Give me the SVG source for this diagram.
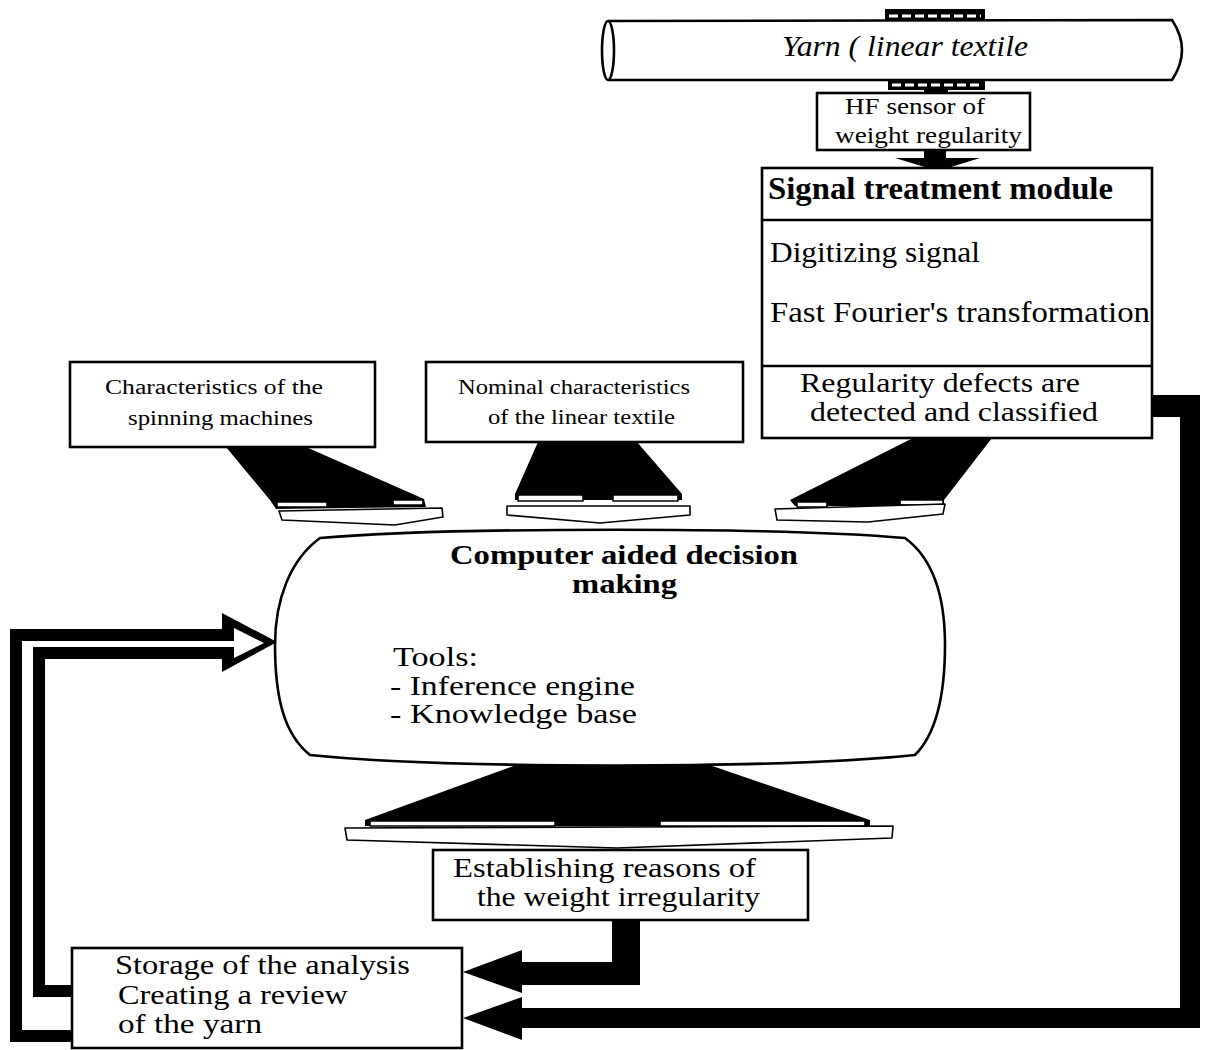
<svg xmlns="http://www.w3.org/2000/svg" width="1206" height="1050" viewBox="0 0 1206 1050">
<style>
.box{fill:#fff;stroke:#000;stroke-width:2.6}
.t{font-family:"Liberation Serif","Times New Roman",serif;fill:#000}
.s{font-size:27px}
.l{font-size:30px}
.sm{font-size:20px}
.b{font-weight:bold}
.blk{fill:#000;stroke:none}
.tray{fill:#fff;stroke:#000;stroke-width:1.6;stroke-linejoin:round}
.line{fill:none;stroke:#000}
.dash{stroke:#fff;stroke-width:3;stroke-dasharray:9,4}
</style>
<rect width="1206" height="1050" fill="#fff"/>

<g id="connectors">
  <!-- sensor bands / stem -->
  <rect x="885" y="9" width="100" height="13" class="blk"/>
  <line x1="889" y1="16" x2="981" y2="16" class="dash"/>
  <rect x="888" y="77" width="97" height="13" class="blk"/>
  <line x1="892" y1="85" x2="981" y2="85" class="dash"/>
  <rect x="924" y="89" width="24" height="6" class="blk"/>
  <!-- sensor to module arrow -->
  <rect x="924" y="150" width="22" height="9" class="blk"/>
  <polygon points="895,158 980,158 938,171" class="blk"/>

  <!-- left funnel -->
  <polygon points="226,447 306,447 424,499 426,507 276,509 270,500" class="blk"/>
  <rect x="277" y="502" width="50" height="5" class="tray"/>
  <rect x="393" y="500" width="30" height="5" class="tray"/>
  <polygon points="279,511 442,508 443,517 395,525 282,520" class="tray"/>

  <!-- middle funnel -->
  <polygon points="538,442 637,442 682,494 682,500 515,500 515,494" class="blk"/>
  <rect x="518" y="495" width="65" height="6" class="tray"/>
  <rect x="613" y="495" width="65" height="6" class="tray"/>
  <polygon points="507,506 690,506 690,515 600,523 507,515" class="tray"/>

  <!-- right funnel -->
  <polygon points="913,438 992,438 944,500 944,506 795,506 790,500" class="blk"/>
  <rect x="797" y="502" width="30" height="5" class="tray"/>
  <rect x="900" y="500" width="43" height="5" class="tray"/>
  <polygon points="775,509 945,504 943,514 868,522 777,520" class="tray"/>

  <!-- bottom funnel -->
  <polygon points="530,760 695,760 870,820 870,826 365,826 365,820" class="blk"/>
  <rect x="370" y="821" width="185" height="5" class="tray"/>
  <rect x="660" y="821" width="205" height="5" class="tray"/>
  <polygon points="345,828 893,826 892,838 617,848 347,840" class="tray"/>

  <!-- reasons to storage -->
  <polygon points="612,920 640,920 640,985 522,985 522,993 463,972 522,950 522,962 612,962" class="blk"/>

  <!-- regularity loop to storage -->
  <polygon points="1152,395 1200,395 1200,1028 522,1028 522,1040 463,1018 522,997 522,1008 1180,1008 1180,417 1152,417" class="blk"/>

  <!-- storage back to decision (hollow arrow) -->
  <polyline points="72,1036 16,1036 16,635 230,635" class="line" stroke-width="12"/>
  <polyline points="72,991 39,991 39,653 230,653" class="line" stroke-width="12"/>
  <polygon points="222,613 277,642 222,672" class="blk"/>
  <polygon points="221,641 234,641 234,628 264,643 234,658 234,647 221,647" fill="#fff"/>
</g>

<g id="pipe">
  <path d="M608,21 L1172,20 Q1192,50 1172,80 L608,80" class="box"/>
  <ellipse cx="608" cy="50.5" rx="6" ry="29.5" class="box"/>
  <text x="782" y="56" class="t" font-size="30" font-style="italic" textLength="246" lengthAdjust="spacingAndGlyphs">Yarn ( linear textile</text>
</g>

<g id="sensor">
  <rect x="817" y="93" width="213" height="57" class="box"/>
  <text x="845" y="114" class="t" font-size="23" textLength="140" lengthAdjust="spacingAndGlyphs">HF sensor of</text>
  <text x="835" y="143" class="t" font-size="23" textLength="187" lengthAdjust="spacingAndGlyphs">weight regularity</text>
</g>

<g id="signal-module">
  <rect x="762" y="168" width="390" height="270" class="box"/>
  <line x1="762" y1="220" x2="1152" y2="220" stroke="#000" stroke-width="2.6"/>
  <line x1="762" y1="366" x2="1152" y2="366" stroke="#000" stroke-width="2.6"/>
  <text x="768" y="199" class="t b" font-size="31" textLength="345" lengthAdjust="spacingAndGlyphs">Signal treatment module</text>
  <text x="770" y="262" class="t l" textLength="210" lengthAdjust="spacingAndGlyphs">Digitizing signal</text>
  <text x="770" y="322" class="t l" textLength="380" lengthAdjust="spacingAndGlyphs">Fast Fourier's transformation</text>
  <text x="800" y="392" class="t s" textLength="280" lengthAdjust="spacingAndGlyphs">Regularity defects are</text>
  <text x="810" y="421" class="t s" textLength="288" lengthAdjust="spacingAndGlyphs">detected and classified</text>
</g>

<g id="spin-char">
  <rect x="70" y="362" width="305" height="85" class="box"/>
  <text x="105" y="394" class="t sm" textLength="218" lengthAdjust="spacingAndGlyphs">Characteristics  of the</text>
  <text x="128" y="425" class="t sm" textLength="185" lengthAdjust="spacingAndGlyphs">spinning machines</text>
</g>

<g id="nominal-char">
  <rect x="426" y="362" width="317" height="80" class="box"/>
  <text x="458" y="394" class="t sm" textLength="232" lengthAdjust="spacingAndGlyphs">Nominal characteristics</text>
  <text x="488" y="424" class="t sm" textLength="187" lengthAdjust="spacingAndGlyphs">of the linear textile</text>
</g>

<g id="decision">
  <path d="M320,538 C450,527 780,527 905,538 C935,560 945,600 945,645 C945,700 935,735 915,755 C780,769 450,769 310,755 C285,735 275,700 275,645 C275,600 290,560 320,538 Z" class="box"/>
  <text x="450" y="564" class="t b s" textLength="348" lengthAdjust="spacingAndGlyphs">Computer aided decision</text>
  <text x="572" y="593" class="t b s" textLength="105" lengthAdjust="spacingAndGlyphs">making</text>
  <text x="393" y="666" class="t s" textLength="85" lengthAdjust="spacingAndGlyphs">Tools:</text>
  <text x="390" y="695" class="t s" textLength="245" lengthAdjust="spacingAndGlyphs">- Inference engine</text>
  <text x="390" y="723" class="t s" textLength="247" lengthAdjust="spacingAndGlyphs">- Knowledge base</text>
</g>

<g id="reasons">
  <rect x="433" y="850" width="375" height="70" class="box"/>
  <text x="453" y="877" class="t s" textLength="303" lengthAdjust="spacingAndGlyphs">Establishing reasons of</text>
  <text x="477" y="906" class="t s" textLength="283" lengthAdjust="spacingAndGlyphs">the weight irregularity</text>
</g>

<g id="storage">
  <rect x="72" y="948" width="390" height="100" class="box"/>
  <text x="115" y="974" class="t s" textLength="295" lengthAdjust="spacingAndGlyphs">Storage of the analysis</text>
  <text x="118" y="1004" class="t s" textLength="230" lengthAdjust="spacingAndGlyphs">Creating a review</text>
  <text x="118" y="1033" class="t s" textLength="144" lengthAdjust="spacingAndGlyphs">of the yarn</text>
</g>
</svg>
